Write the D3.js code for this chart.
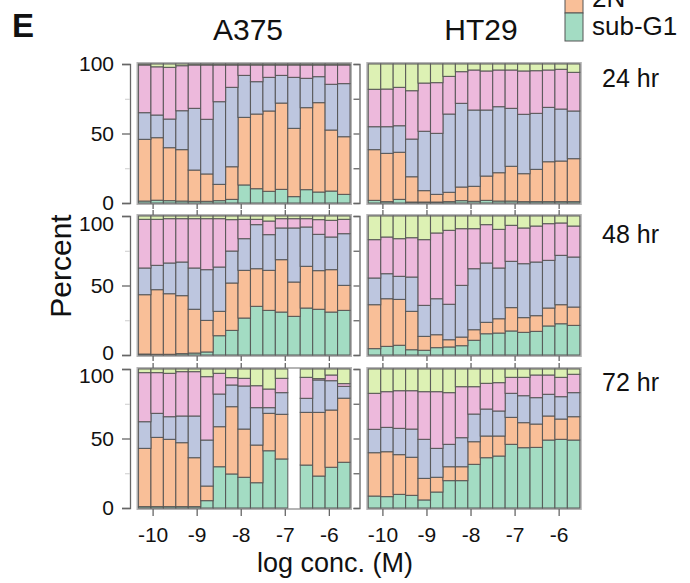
<!DOCTYPE html>
<html><head><meta charset="utf-8">
<script src="https://cdn.jsdelivr.net/npm/d3@7"></script>
<style>
body{margin:0;background:#fff}
svg{display:block}
text{font-family:"Liberation Sans",Arial,Helvetica,sans-serif;fill:#111}
</style>
</head><body>
<svg id="chart" width="690" height="583"></svg>
<script>
// ---------------- DATA ----------------
const cellLines = ["A375", "HT29"];
const timeLabels = ["24 hr", "48 hr", "72 hr"];
const phases = ["sub-G1", "2N", "S", "4N", ">4N"];
const xTickValues = [-10, -9, -8, -7, -6];
const xTickLabels = ["-10", "-9", "-8", "-7", "-6"];
const xDomain = [-10.32, -5.52];
const yMajorTicks = [0, 50, 100];
const yMinorTicks = [25, 75];

// A375, 24 hr (17 doses, low -> high)
const a375_24_subG1 = [1.4,2.0,1.7,1.4,1.2,1.2,1.7,2.6,13.0,10.3,8.4,9.8,4.6,9.6,7.9,8.6,6.2];
const a375_24_2N    = [44.4,45.0,38.1,37.0,22.5,19.7,11.7,23.5,48.6,53.7,57.8,62.1,49.1,59.0,64.3,43.9,41.5];
const a375_24_S     = [19.2,16.3,20.6,28.0,44.4,39.3,59.5,57.1,30.2,23.3,24.2,19.9,36.7,21.1,18.7,32.9,38.2];
const a375_24_4N    = [34.3,34.7,37.2,32.4,31.2,39.1,26.4,16.1,7.5,12.0,8.9,7.5,8.9,9.6,8.4,13.9,13.4];
const a375_24_gt4N  = [0.7,2.0,2.4,1.2,0.7,0.7,0.7,0.7,0.7,0.7,0.7,0.7,0.7,0.7,0.7,0.7,0.7];

// HT29, 24 hr
const ht29_24_subG1 = [1.9,1.0,2.6,0.7,0.7,0.7,1.0,1.7,1.2,1.9,1.4,1.4,1.0,1.0,1.0,1.0,1.0];
const ht29_24_2N    = [36.5,34.7,33.9,18.2,8.2,5.5,6.7,9.8,10.8,17.5,20.4,25.0,20.1,23.2,28.7,29.2,30.9];
const ht29_24_S     = [16.5,19.2,19.1,27.1,42.7,43.9,56.3,60.2,54.9,47.5,47.5,41.7,42.7,40.3,39.1,37.4,34.3];
const ht29_24_4N    = [26.9,27.1,27.6,34.8,34.7,36.5,27.1,22.8,28.8,28.1,26.4,27.6,31.2,30.7,26.9,28.6,27.8];
const ht29_24_gt4N  = [18.2,18.0,16.8,19.2,13.7,13.4,8.9,5.5,4.3,5.0,4.3,4.3,5.0,4.8,4.3,3.8,6.0];

// A375, 48 hr
const a375_48_subG1 = [0.7,0.5,0.5,1.0,1.4,2.2,13.9,17.7,26.6,35.0,32.1,30.9,27.8,33.8,32.9,30.9,32.1];
const a375_48_2N    = [42.7,46.5,43.6,41.7,31.5,22.7,17.5,34.1,34.3,27.1,28.8,37.7,24.7,30.0,27.8,30.5,18.0];
const a375_48_S     = [19.2,17.5,22.1,24.2,29.7,36.5,31.9,23.0,22.8,31.7,25.7,22.8,38.9,28.3,26.1,23.5,37.2];
const a375_48_4N    = [35.0,33.1,31.9,31.2,35.5,36.7,34.8,22.6,13.9,3.8,9.8,6.7,6.7,6.0,10.6,12.0,10.3];
const a375_48_gt4N  = [2.4,2.4,1.9,1.9,1.9,1.9,1.9,2.6,2.4,2.4,3.6,1.9,1.9,1.9,2.6,3.1,2.4];

// HT29, 48 hr
const ht29_48_subG1 = [4.6,6.2,7.0,3.8,3.4,5.3,5.8,6.7,10.6,15.3,15.8,17.3,16.3,17.0,20.9,22.5,21.3];
const ht29_48_2N    = [31.6,34.3,33.0,27.6,10.0,9.3,5.2,6.2,7.6,8.2,10.3,16.8,10.6,11.3,12.9,13.7,13.2];
const ht29_48_S     = [19.2,18.0,16.6,24.7,22.3,25.9,25.5,37.2,43.9,42.7,36.5,33.3,38.8,38.6,34.3,35.5,36.0];
const ht29_48_4N    = [27.6,26.4,27.1,28.3,47.3,47.3,53.2,40.8,28.8,27.6,27.8,25.9,25.7,25.9,26.4,23.3,22.3];
const ht29_48_gt4N  = [17.0,15.1,16.3,15.6,17.0,12.2,10.3,9.1,9.1,6.2,9.6,6.7,8.6,7.2,5.5,5.0,7.2];

// A375, 72 hr (one dose missing)
const a375_72_subG1 = [1.0,1.0,1.0,1.0,1.0,5.3,29.7,24.5,22.1,18.2,41.2,35.3,null,30.9,23.0,29.3,32.9];
const a375_72_2N    = [41.9,49.8,48.4,46.0,35.2,10.5,28.8,48.4,34.7,27.1,26.9,32.1,null,37.9,45.8,41.2,46.1];
const a375_72_S     = [19.2,17.3,16.3,19.2,30.0,33.1,23.5,15.6,31.0,26.9,4.1,15.6,null,10.1,23.3,21.1,8.5];
const a375_72_4N    = [35.3,29.3,31.2,31.9,31.9,45.6,14.9,5.3,5.5,15.8,13.4,10.3,null,15.1,1.0,4.1,2.0];
const a375_72_gt4N  = [2.6,2.6,3.1,1.9,1.9,5.5,3.1,6.2,6.7,12.0,14.4,6.7,null,6.0,6.9,4.3,10.5];

// HT29, 72 hr
const ht29_72_subG1 = [8.6,8.2,9.8,9.1,5.8,11.5,19.7,19.7,31.4,36.2,37.4,45.8,43.4,43.6,48.9,49.4,48.9];
const ht29_72_2N    = [31.2,32.3,28.6,27.4,15.5,10.6,10.0,10.0,16.3,15.6,14.4,19.4,18.0,16.8,17.3,14.6,16.8];
const ht29_72_S     = [16.8,17.5,18.9,20.3,28.1,20.8,16.1,20.9,19.9,19.4,18.0,17.3,19.4,19.0,15.6,16.1,17.3];
const ht29_72_4N    = [25.9,25.7,27.1,27.6,34.3,40.8,37.2,36.7,19.7,18.5,20.4,11.5,13.2,16.3,13.9,13.9,13.2];
const ht29_72_gt4N  = [17.5,16.3,15.6,15.6,16.3,16.3,17.0,12.7,12.7,10.3,9.8,6.0,6.0,4.3,4.3,6.0,3.8];

const phaseColors = ["#a3dcc3", "#f9bf98", "#bdc6df", "#edb9dc", "#ddf1b4"];

// ---------------- LAYOUT ----------------
const panelsSeries = [
  [[a375_24_subG1,a375_24_2N,a375_24_S,a375_24_4N,a375_24_gt4N],
   [ht29_24_subG1,ht29_24_2N,ht29_24_S,ht29_24_4N,ht29_24_gt4N]],
  [[a375_48_subG1,a375_48_2N,a375_48_S,a375_48_4N,a375_48_gt4N],
   [ht29_48_subG1,ht29_48_2N,ht29_48_S,ht29_48_4N,ht29_48_gt4N]],
  [[a375_72_subG1,a375_72_2N,a375_72_S,a375_72_4N,a375_72_gt4N],
   [ht29_72_subG1,ht29_72_2N,ht29_72_S,ht29_72_4N,ht29_72_gt4N]]
];

const colLeft = [138.5, 368.3];
const panelW = 211.5;
const rowTop = [64, 216, 369];
const panelH = 139;
const yAxisX = [130, 359.5];
const topLabelShift = [0, 8, 7];
const bottomLabelShift = [0, -2, 0];

const svg = d3.select("#chart");
const color = d3.scaleOrdinal(phases, phaseColors);

panelsSeries.forEach((rowSeries, r) => {
  rowSeries.forEach((series, c) => {
    const n = series[0].length;
    const x0 = colLeft[c], y0 = rowTop[r];
    const xb = d3.scaleBand(d3.range(n), [x0, x0 + panelW]).padding(0);
    const xl = d3.scaleLinear(xDomain, [x0, x0 + panelW]);
    const y = d3.scaleLinear([0, 100], [y0 + panelH, y0]);

    const rows = d3.range(n).map(i => {
      const o = {i, missing: series[0][i] == null};
      phases.forEach((p, k) => o[p] = series[k][i] == null ? 0 : series[k][i]);
      return o;
    });
    const stacked = d3.stack().keys(phases)(rows);

    const g = svg.append("g");
    g.append("rect")
      .attr("x", x0 - 1).attr("y", y0 - 1)
      .attr("width", panelW + 2).attr("height", panelH + 2)
      .attr("fill", "#fff").attr("stroke", "#b4b4b4").attr("stroke-width", 2);

    stacked.forEach(layer => {
      g.append("g").selectAll("rect")
        .data(layer.filter(d => !d.data.missing))
        .join("rect")
        .attr("x", d => xb(d.data.i))
        .attr("width", xb.bandwidth())
        .attr("y", d => y(d[1]))
        .attr("height", d => Math.max(0, y(d[0]) - y(d[1])))
        .attr("fill", color(layer.key))
        .attr("stroke", "#505050")
        .attr("stroke-opacity", 0.85)
        .attr("stroke-width", 1.1);
    });

    if (c === 0) {
      const ay = svg.append("g").attr("transform", `translate(${yAxisX[c]},0)`)
        .call(d3.axisLeft(y).tickValues(yMajorTicks).tickSize(8).tickSizeOuter(8).tickPadding(8));
      ay.selectAll("text").style("font-size", "21px").attr("fill", "#111")
        .attr("dy", d => (0.32 * 21 + (d === 100 ? topLabelShift[r] : d === 0 ? bottomLabelShift[r] : 0)) + "px");
      ay.selectAll("line,path").attr("stroke", "#666").attr("stroke-width", 1.3);
      const am = svg.append("g").attr("transform", `translate(${yAxisX[c]},0)`)
        .call(d3.axisLeft(y).tickValues(yMinorTicks).tickSize(5).tickFormat(""));
      am.select(".domain").remove();
      am.selectAll("line").attr("stroke", "#ccc");
    } else {
      const ay = svg.append("g").attr("transform", `translate(${yAxisX[c]},0)`)
        .call(d3.axisLeft(y).tickValues(yMajorTicks.concat(yMinorTicks)).tickSize(6).tickSizeOuter(6).tickFormat(""));
      ay.selectAll("line,path").attr("stroke", "#666").attr("stroke-width", 1.3);
    }

    const last = r === panelsSeries.length - 1;
    const ax = svg.append("g").attr("transform", `translate(0,${y0 + panelH + 1})`)
      .call(d3.axisBottom(xl).tickValues(xTickValues).tickSize(last ? 7 : 5).tickSizeOuter(0)
        .tickPadding(11).tickFormat((d, i) => last ? xTickLabels[i] : ""));
    ax.select(".domain").remove();
    ax.selectAll("line").attr("stroke", "#666").attr("stroke-width", 1.3);
    ax.selectAll("text").style("font-size", "21px").attr("fill", "#111");
    if (r > 0) {
      const at = svg.append("g").attr("transform", `translate(0,${y0 - 1})`)
        .call(d3.axisTop(xl).tickValues(xTickValues).tickSize(5).tickSizeOuter(0).tickFormat(""));
      at.select(".domain").remove();
      at.selectAll("line").attr("stroke", "#666").attr("stroke-width", 1.3);
    }
  });
});

svg.append("text").attr("x", 12).attr("y", 37).text("E")
  .style("font-size", "33px").style("font-weight", "bold");
const titleX = [248, 481];
cellLines.forEach((t, i) => svg.append("text").attr("x", titleX[i]).attr("y", 40)
  .attr("text-anchor", "middle").style("font-size", "30px").text(t));
const rowLabelY = [87, 243, 391];
timeLabels.forEach((t, i) => svg.append("text").attr("x", 602).attr("y", rowLabelY[i])
  .style("font-size", "25px").text(t));

svg.append("text").attr("x", 335).attr("y", 572).attr("text-anchor", "middle")
  .style("font-size", "27px").text("log conc. (M)");
svg.append("text").attr("transform", "translate(71,266) rotate(-90)")
  .attr("text-anchor", "middle").style("font-size", "30px").text("Percent");

// legend (its upper part is cut off in the original figure)
const legendKeys = ["2N", "sub-G1"];
const legendTop = -15, legendRowH = 28;
legendKeys.forEach((k, i) => {
  svg.append("rect").attr("x", 565).attr("y", legendTop + i * legendRowH)
    .attr("width", 18).attr("height", legendRowH)
    .attr("fill", color(k)).attr("stroke", "#555").attr("stroke-width", 1);
  svg.append("text").attr("x", 592).attr("y", legendTop + i * legendRowH + 22)
    .style("font-size", "26px").text(k);
});
</script>
</body></html>
